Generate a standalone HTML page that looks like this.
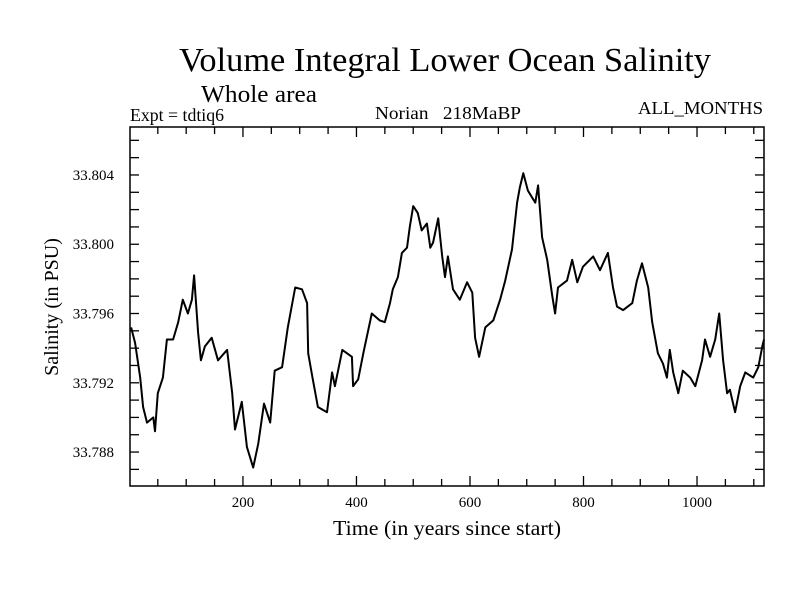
<!DOCTYPE html>
<html><head><meta charset="utf-8"><style>
body{margin:0;background:#fff}
svg{display:block;font-family:"Liberation Serif",serif}
</style></head><body>
<svg id="chart" width="800" height="600">
<rect x="0" y="0" width="800" height="600" fill="#fff"/>
<text x="179" y="71" font-size="34" textLength="532" lengthAdjust="spacingAndGlyphs">Volume Integral Lower Ocean Salinity</text>
<text x="201" y="102" font-size="24" textLength="116" lengthAdjust="spacingAndGlyphs">Whole area</text>
<text x="130" y="121" font-size="18" textLength="94" lengthAdjust="spacingAndGlyphs">Expt = tdtiq6</text>
<text x="375" y="119" font-size="18" textLength="146" lengthAdjust="spacingAndGlyphs">Norian&#160;&#160;&#160;218MaBP</text>
<text x="638" y="114" font-size="18" textLength="125" lengthAdjust="spacingAndGlyphs">ALL_MONTHS</text>
<text x="333" y="535" font-size="21" textLength="228" lengthAdjust="spacingAndGlyphs">Time (in years since start)</text>
<text transform="translate(58,307) rotate(-90)" font-size="20" text-anchor="middle">Salinity (in PSU)</text>
<g id="axes"></g>
<path id="series" fill="none" stroke="#000" stroke-width="2" stroke-linejoin="round"/>
<rect x="130" y="127" width="634" height="359" fill="none" stroke="#000" stroke-width="1.5"/>
</svg>
<script>
const years=[3,10,19,24,31,42,45,50,59,66,77,86,94,103,110,114,121,126,133,145,156,172,181,186,198,207,218,227,237,248,256,269,279,292,304,313,315,323,332,348,357,362,375,392,394,403,412,427,441,450,459,464,473,480,489,494,500,508,515,524,530,535,544,551,556,561,570,582,595,604,609,616,627,641,653,662,674,683,688,694,702,715,720,727,736,745,750,755,771,780,789,799,817,829,843,852,859,870,886,894,903,914,921,931,940,947,952,958,967,975,988,997,1009,1014,1023,1032,1039,1046,1053,1058,1067,1076,1085,1099,1108,1115,1118];
const salinity=[33.7952,33.7943,33.7923,33.7906,33.7897,33.7900,33.7892,33.7914,33.7923,33.7945,33.7945,33.7955,33.7968,33.7960,33.7968,33.7982,33.7949,33.7933,33.7941,33.7946,33.7933,33.7939,33.7914,33.7893,33.7909,33.7883,33.7871,33.7885,33.7908,33.7897,33.7927,33.7929,33.7952,33.7975,33.7974,33.7966,33.7937,33.7922,33.7906,33.7903,33.7926,33.7918,33.7939,33.7935,33.7918,33.7922,33.7937,33.7960,33.7956,33.7955,33.7966,33.7974,33.7981,33.7995,33.7998,33.8010,33.8022,33.8018,33.8008,33.8012,33.7998,33.8001,33.8015,33.7993,33.7981,33.7993,33.7974,33.7968,33.7978,33.7972,33.7946,33.7935,33.7952,33.7956,33.7968,33.7979,33.7997,33.8024,33.8033,33.8041,33.8031,33.8024,33.8034,33.8004,33.7991,33.7970,33.7960,33.7975,33.7979,33.7991,33.7978,33.7987,33.7993,33.7985,33.7995,33.7975,33.7964,33.7962,33.7966,33.7979,33.7989,33.7975,33.7955,33.7937,33.7931,33.7923,33.7939,33.7926,33.7914,33.7927,33.7923,33.7918,33.7933,33.7945,33.7935,33.7945,33.7960,33.7933,33.7914,33.7916,33.7903,33.7918,33.7926,33.7923,33.7929,33.7941,33.7945];
const xTickLabels=[200,400,600,800,1000];
const xMinorTicks=[50,100,150,200,250,300,350,400,450,500,550,600,650,700,750,800,850,900,950,1000,1050,1100];
const yTickLabels=["33.788","33.792","33.796","33.800","33.804"];
const yMinorTicks=[33.787,33.788,33.789,33.790,33.791,33.792,33.793,33.794,33.795,33.796,33.797,33.798,33.799,33.800,33.801,33.802,33.803,33.804,33.805,33.806];

const X0=130,X1=764,Y0=486,Y1=127;
const xMin=1,xMax=1118,yMin=33.78604,yMax=33.80677;
const xs=v=>X0+(v-xMin)/(xMax-xMin)*(X1-X0);
const ys=v=>Y0-(v-yMin)/(yMax-yMin)*(Y0-Y1);
const NS="http://www.w3.org/2000/svg";
const axes=document.getElementById('axes');
function line(x1,y1,x2,y2){const l=document.createElementNS(NS,'line');l.setAttribute('x1',x1);l.setAttribute('y1',y1);l.setAttribute('x2',x2);l.setAttribute('y2',y2);l.setAttribute('stroke','#000');l.setAttribute('stroke-width','1.3');axes.appendChild(l);return l;}
xMinorTicks.forEach(t=>{const x=xs(t);const major=t%200===0;const len=major?10:7;
 const a=line(x,Y0,x,Y0-len);
 
 
 const b=line(x,Y1,x,Y1+len);
 
 });
xTickLabels.forEach(t=>{const tx=document.createElementNS(NS,'text');tx.setAttribute('x',xs(t));tx.setAttribute('y',507);tx.setAttribute('font-size','15');tx.setAttribute('text-anchor','middle');tx.textContent=t;
 
 
 axes.appendChild(tx);});
yMinorTicks.forEach(t=>{const y=ys(t);if(y<Y1||y>Y0)return;
 const a=line(X0,y,X0+9,y);
 
 
 const b=line(X1,y,X1-9,y);
 
 });
yTickLabels.forEach(t=>{const tx=document.createElementNS(NS,'text');tx.setAttribute('x',114);tx.setAttribute('y',ys(parseFloat(t))+5);tx.setAttribute('font-size','15');tx.setAttribute('text-anchor','end');tx.textContent=t;
 
 
 axes.appendChild(tx);});
let d='';years.forEach((yr,i)=>{d+=(i?'L':'M')+xs(yr).toFixed(1)+','+ys(salinity[i]).toFixed(1);});
document.getElementById('series').setAttribute('d',d);
</script>
</body></html>
